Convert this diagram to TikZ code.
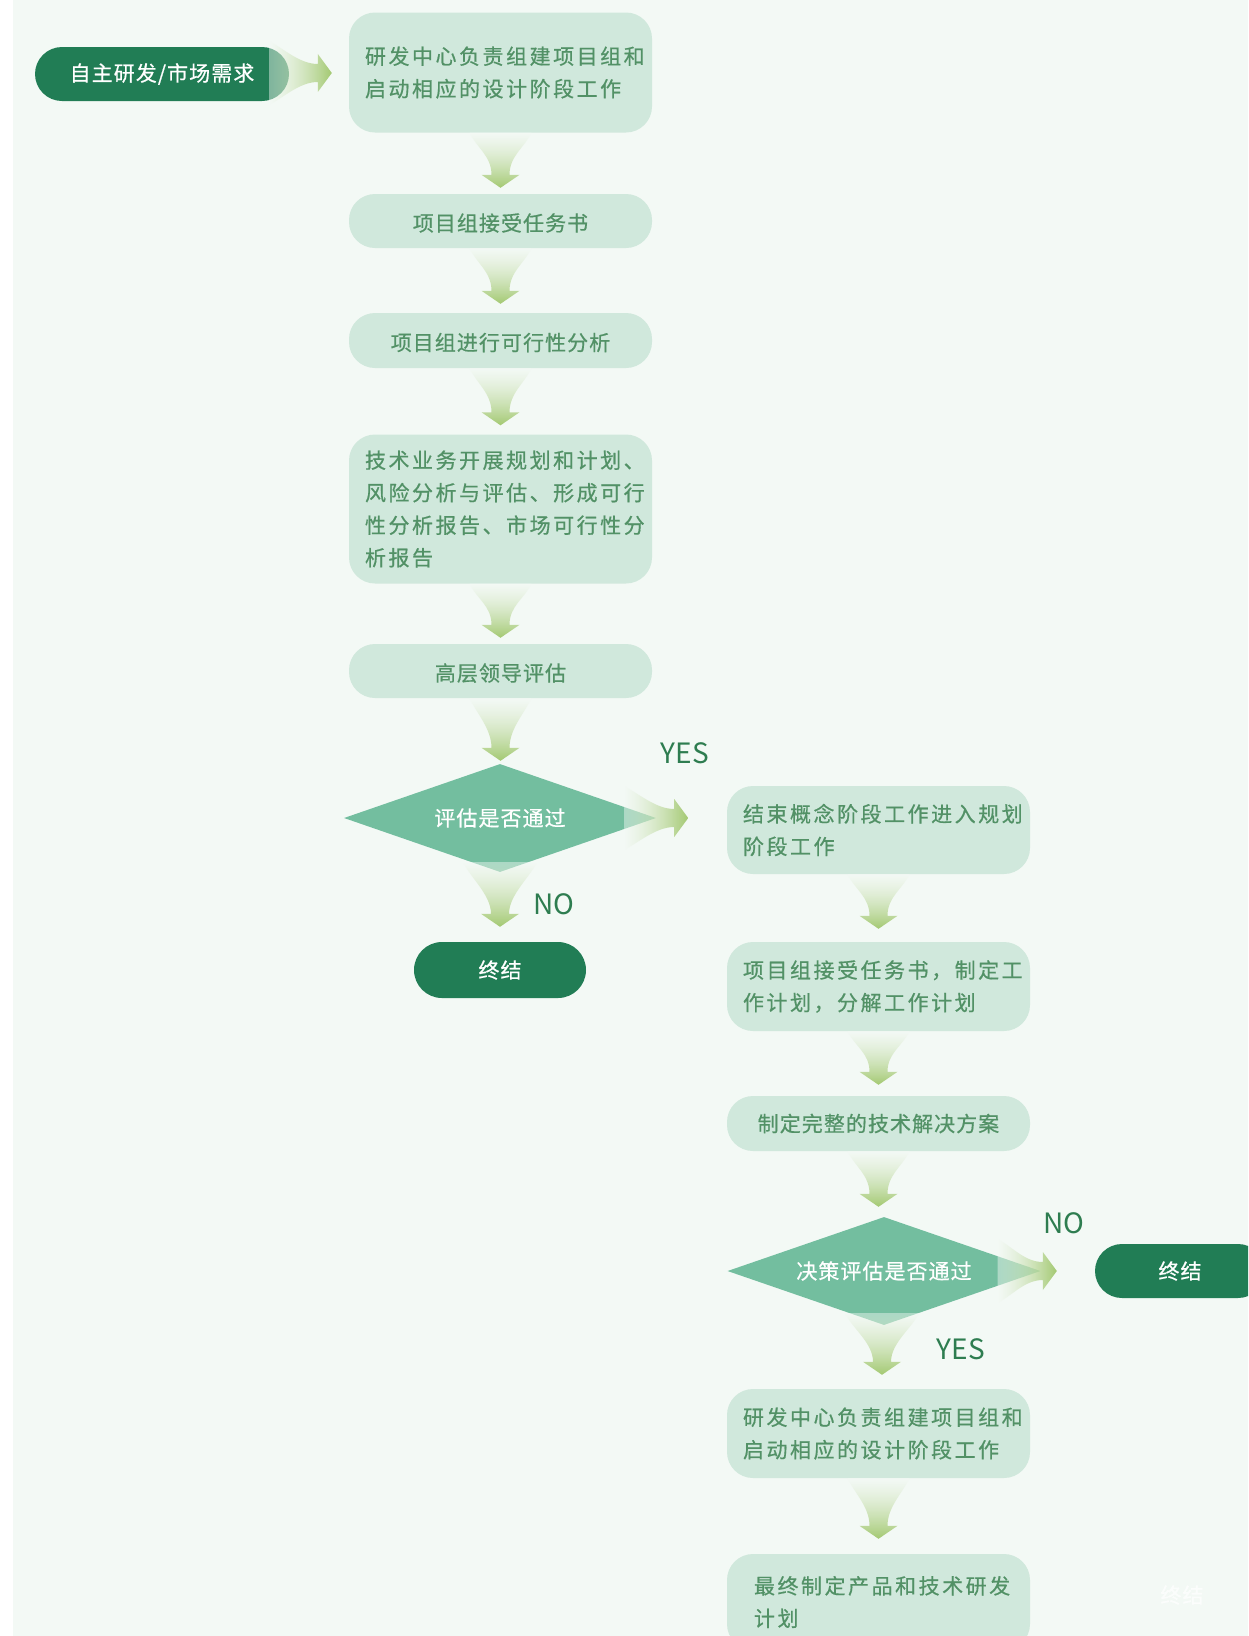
\documentclass[tikz,border=0pt]{standalone}
\usepackage{fontspec}
\newfontfamily\cjk{Noto Sans CJK SC}
\newfontfamily\cjkw[LetterSpace=12,FakeBold=0.6]{Noto Sans CJK SC}
\newfontfamily\cjkn[LetterSpace=5,FakeBold=0.6]{Noto Sans CJK SC}
\usetikzlibrary{shapes.geometric,calc,fadings}
\definecolor{bgc}{HTML}{F3F9F5}
\definecolor{boxc}{HTML}{D0E8DC}
\definecolor{boxtext}{HTML}{529166}
\definecolor{pillc}{HTML}{217D55}
\definecolor{diac}{HTML}{73BE9F}
\definecolor{arrg}{HTML}{A3C971}
\definecolor{lblc}{HTML}{2E7D50}
\tikzfading[name=fdown, top color=transparent!55, bottom color=transparent!0]
\tikzfading[name=fright, left color=transparent!55, right color=transparent!0]
\tikzset{
  box/.style={fill=boxc, rounded corners=26pt, minimum width=303pt, inner xsep=16pt, inner ysep=0pt, text=boxtext},
  boxone/.style={box, minimum height=54pt, font=\cjkn\fontsize{21}{30}\selectfont},
  lowtext/.style={text height=20pt, text depth=0pt},
  boxmulti/.style={box, text width=271pt, align=left, font=\cjkw\fontsize{21}{32.5}\selectfont},
  pill/.style={fill=pillc, rounded corners=27pt, minimum height=54pt, inner sep=0pt, text=white, font=\cjkn\fontsize{21}{26}\selectfont},
  decision/.style={diamond, aspect=2.84, fill=diac, minimum width=312pt, minimum height=108pt, inner sep=0pt, text=white, font=\cjkn\fontsize{21}{26}\selectfont},
  lbl/.style={inner sep=0pt, text=lblc, font=\cjk\fontsize{28}{30}\selectfont}
}
% #1 half width of the tail, #2 start, #3 tip
\newcommand\fatdown[3][31]{%
  \shade[top color=bgc, bottom color=arrg, path fading=fdown] let \p1=#2, \p2=#3 in
  ({\x1-#1pt},\y1) .. controls ({\x1-#1pt+7pt},{\y1-15pt}) and ({\x1-9pt},{\y2+32pt}) .. ({\x1-9pt},{\y2+13pt})
  -- ({\x1-19pt},{\y2+13pt}) -- (\x1,\y2) -- ({\x1+19pt},{\y2+13pt}) -- ({\x1+9pt},{\y2+13pt})
  .. controls ({\x1+9pt},{\y2+32pt}) and ({\x1+#1pt-7pt},{\y1-15pt}) .. ({\x1+#1pt},\y1) -- cycle;}
\newcommand\fatright[2]{%
  \shade[left color=bgc, right color=arrg, path fading=fright] let \p1=#1, \p2=#2 in
  (\x1,{\y1+32pt}) .. controls ({\x1+15pt},{\y1+24pt}) and ({\x2-32pt},{\y1+9pt}) .. ({\x2-14pt},{\y1+9pt})
  -- ({\x2-14pt},{\y1+19pt}) -- (\x2,\y1) -- ({\x2-14pt},{\y1-19pt}) -- ({\x2-14pt},{\y1-9pt})
  .. controls ({\x2-32pt},{\y1-9pt}) and ({\x1+15pt},{\y1-24pt}) .. (\x1,{\y1-32pt}) -- cycle;}
\begin{document}
\begin{tikzpicture}[x=1pt,y=-1pt]
\useasboundingbox (0,0) rectangle (1248,1636);
\clip (0,0) rectangle (1248,1636);
\fill[white] (0,0) rectangle (1248,1636);
\fill[bgc] (12.5,0) rectangle (1248,1636);

% left column
\node[pill, minimum width=254pt] (start) at (162,74) {自主研发/市场需求};
\node[boxmulti, minimum height=120pt] (box1) at (500.5,72.5) {研发中心负责组建项目组和\\启动相应的设计阶段工作};
\node[boxone, lowtext] (box2) at (500.5,221) {项目组接受任务书};
\node[boxone, lowtext, minimum height=55pt] (box3) at (500.5,340.5) {项目组进行可行性分析};
\node[boxmulti, minimum height=149pt] (box4) at (500.5,509) {技术业务开展规划和计划、\\风险分析与评估、形成可行\\性分析报告、市场可行性分\\析报告};
\node[boxone, lowtext] (box5) at (500.5,671) {高层领导评估};
\node[decision] (d1) at (500,818) {评估是否通过};
\node[pill, minimum width=172pt, minimum height=56pt, rounded corners=28pt] (end1) at (500,970) {终结};

% right column
\node[boxmulti, minimum height=88pt] (r1) at (878.5,830) {结束概念阶段工作进入规划\\阶段工作};
\node[boxmulti, minimum height=89pt] (r2) at (878.5,986.5) {项目组接受任务书，制定工\\作计划，分解工作计划};
\node[boxone, minimum height=55pt] (r3) at (878.5,1123.5) {制定完整的技术解决方案};
\node[decision, minimum width=313pt] (d2) at (884,1271) {决策评估是否通过};
\node[pill, minimum width=170pt] (end2) at (1180,1271) {终结};
\node[boxmulti, minimum height=89pt] (r4) at (878.5,1433.5) {研发中心负责组建项目组和\\启动相应的设计阶段工作};
\node[boxmulti, minimum height=96pt, inner xsep=0pt, text width=303pt] (r5) at (878.5,1602) {\hspace*{27pt}最终制定产品和技术研发\\\hspace*{27pt}计划};
\node[inner sep=0pt, text=white, opacity=0.75, font=\cjkn\fontsize{21}{26}\selectfont] (ghost) at (1182,1595) {终结};

% connectors
\fatright{($(start.east)+(-20,-1)$)}{($(box1.west)+(-17,0)$)}
\fatdown{(box1.south)}{($(box2.north)+(0,-6)$)}
\fatdown{(box2.south)}{($(box3.north)+(0,-9)$)}
\fatdown{(box3.south)}{($(box4.north)+(0,-9)$)}
\fatdown{(box4.south)}{($(box5.north)+(0,-6)$)}
\fatdown{(box5.south)}{($(d1.north)+(0,-3)$)}
\fatdown[37]{($(d1.south)+(0,-10)$)}{($(end1.north)+(0,-15)$)}
\fatright{($(d1.east)+(-32,0)$)}{($(d1.east)+(32,0)$)}
\fatdown{(r1.south)}{($(r2.north)+(0,-13)$)}
\fatdown{(r2.south)}{($(r3.north)+(0,-11)$)}
\fatdown{(r3.south)}{($(d2.north)+(0,-10)$)}
\fatright{($(d2.east)+(-43,0)$)}{($(end2.west)+(-38,0)$)}
\fatdown[37]{($(d2.south)+(-2,-12)$)}{($(r4.north)+(0,-14)$)}
\fatdown{(r4.south)}{($(r5.north)+(0,-15)$)}

% labels
\node[lbl] (yes1) at (685,753) {YES};
\node[lbl] (no1) at (554,904) {NO};
\node[lbl] (no2) at (1064,1223) {NO};
\node[lbl] (yes2) at (961,1349) {YES};
\end{tikzpicture}
\end{document}
